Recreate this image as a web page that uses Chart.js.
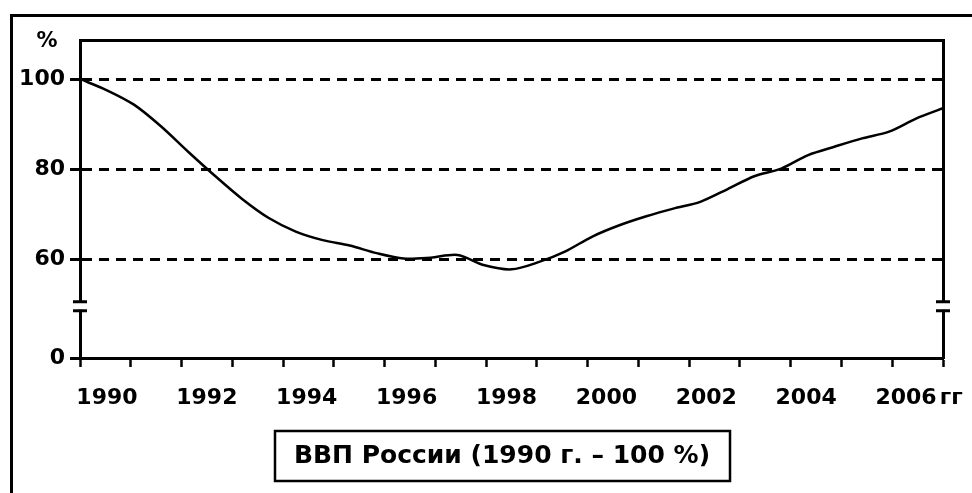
<!DOCTYPE html>
<html><head><meta charset="utf-8">
<script src="https://cdn.jsdelivr.net/npm/chart.js@4.4.1/dist/chart.umd.min.js"></script>
<style>html,body{margin:0;padding:0;background:#fff;overflow:hidden}#wrap{width:972px;height:493px;position:relative}</style>
</head><body><div id="wrap"><canvas id="c" width="972" height="493"></canvas></div>
<script>
// ---- data ----
const years = [1990,1990.5,1991,1991.5,1992,1992.5,1993,1993.5,1994,1994.5,1995,1995.5,1996,1996.5,1997,1997.5,1998,1998.5,1999,1999.5,2000,2000.5,2001,2001.5,2002,2002.5,2003,2003.5,2004,2004.5,2005,2005.5,2006];
const gdp   = [100,97.5,94.3,89.5,83.9,78.5,73.4,69.1,66.1,64.2,63.0,61.3,60.1,60.3,60.9,58.6,57.7,59.3,61.7,65.0,67.5,69.5,71.2,72.7,75.5,78.4,80.1,83.1,85.0,86.8,88.3,91.2,93.5];
const yTickValues = [38,60,80,100];          // 38 stands for the broken-axis "0"
const yTickLabels = ['0','60','80','100'];
const xLabelYears = [1990,1992,1994,1996,1998,2000,2002,2004,2006];
const xUnit = 'гг';
const yUnit = '%';
const caption = 'ВВП России (1990 г. – 100 %)';

const FONT = 'DejaVu Sans';

const decor = {
  id: 'decor',
  afterDraw(chart) {
    const ctx = chart.ctx, a = chart.chartArea, ys = chart.scales.y, x2 = chart.scales.x2;
    ctx.save();
    // outer frame
    ctx.strokeStyle = '#000'; ctx.lineWidth = 3;
    ctx.strokeRect(11.5, 15.5, 2000, 2000);
    // axis breaks
    const yb1 = ys.getPixelForValue(50.5), yb2 = ys.getPixelForValue(48.5);
    [a.left, a.right].forEach(x => {
      ctx.fillStyle = '#fff';
      ctx.fillRect(x - 5, yb1 + 1, 10, yb2 - yb1 - 2);
      ctx.strokeStyle = '#000'; ctx.lineWidth = 3;
      ctx.beginPath();
      ctx.moveTo(x - 7, yb1); ctx.lineTo(x + 7, yb1);
      ctx.moveTo(x - 7, yb2); ctx.lineTo(x + 7, yb2);
      ctx.stroke();
    });
    ctx.fillStyle = '#000';
    // % unit
    ctx.font = 'bold 21px "' + FONT + '"';
    ctx.textAlign = 'center'; ctx.textBaseline = 'middle';
    ctx.fillText(yUnit, 47, 42);
    // гг unit after last label
    ctx.font = 'bold 22px "' + FONT + '"';
    const lastX = x2.getPixelForValue(xLabelYears[xLabelYears.length - 1]);
    const w = ctx.measureText(String(xLabelYears[xLabelYears.length - 1])).width;
    ctx.textAlign = 'left';
    const lblY = x2.top + x2.options.ticks.padding + 13.2;
    ctx.fillText(xUnit, lastX + w / 2 + 3, lblY);
    // caption box
    ctx.font = 'bold 25px "' + FONT + '"';
    ctx.textAlign = 'center';
    ctx.fillText(caption, 502, 456);
    ctx.lineWidth = 2.5;
    ctx.strokeRect(275, 431, 455, 50);
    ctx.restore();
  }
};

new Chart(document.getElementById('c'), {
  type: 'line',
  data: {
    datasets: [{
      data: years.map((x, i) => ({x: x, y: gdp[i]})),
      xAxisID: 'x', yAxisID: 'y',
      borderColor: '#000', borderWidth: 2.5,
      pointRadius: 0, tension: 0.3, fill: false
    }]
  },
  options: {
    responsive: false, animation: false, devicePixelRatio: 1,
    layout: {padding: {top: 40, right: 29, left: 0, bottom: 0}},
    plugins: {legend: {display: false}, tooltip: {enabled: false}},
    scales: {
      x: {
        type: 'linear', position: 'bottom', min: 1990, max: 2006,
        afterBuildTicks: s => { s.ticks = Array.from({length: 18}, (_, j) => ({value: 1990 + 16 * j / 17})); },
        ticks: {display: false},
        grid: {drawOnChartArea: false, drawTicks: true, tickLength: 9, tickWidth: 2.5, tickColor: '#000'},
        border: {display: true, width: 3, color: '#000'},
        afterFit: s => { s.height = 10; }
      },
      x2: {
        type: 'linear', position: 'bottom', min: 1989.46, max: 2006.74,
        afterBuildTicks: s => { s.ticks = xLabelYears.map(v => ({value: v})); },
        ticks: {font: {family: FONT, size: 22, weight: 'bold'}, color: '#000', padding: 17, maxRotation: 0, autoSkip: false, callback: v => String(v)},
        grid: {display: false, drawTicks: false},
        border: {display: false},
        afterFit: s => { s.height = 125; }
      },
      xT: {
        type: 'linear', position: 'top', min: 1990, max: 2006,
        ticks: {display: false}, grid: {display: false, drawTicks: false},
        border: {display: true, width: 3, color: '#000'},
        afterFit: s => { s.height = 0; }
      },
      y: {
        type: 'linear', position: 'left', min: 38, max: 108.67,
        afterBuildTicks: s => { s.ticks = yTickValues.map(v => ({value: v})); },
        ticks: {font: {family: FONT, size: 22, weight: 'bold'}, color: '#000', padding: 5,
                callback: v => yTickLabels[yTickValues.indexOf(v)]},
        grid: {color: c => (c.tick && c.tick.value === 38) ? 'rgba(0,0,0,0)' : '#000',
               lineWidth: 3, tickLength: 10, tickWidth: 3, tickColor: '#000', tickBorderDash: []},
        border: {display: true, width: 3, color: '#000', dash: [10, 7]},
        afterFit: s => { s.width = 80; }
      },
      yR: {
        type: 'linear', position: 'right', min: 38, max: 108.67,
        ticks: {display: false}, grid: {display: false, drawTicks: false},
        border: {display: true, width: 3, color: '#000'},
        afterFit: s => { s.width = 0; }
      }
    }
  },
  plugins: [decor]
});
</script></body></html>
